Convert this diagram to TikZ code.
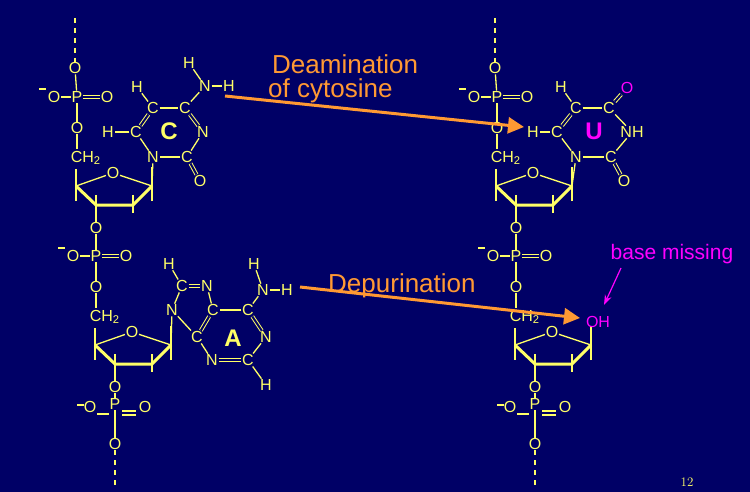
\documentclass[tikz,border=0pt]{standalone}
\usepackage{fontspec}
\setmainfont{Liberation Sans}
\usetikzlibrary{arrows.meta}
\definecolor{bg}{RGB}{0,0,102}
\definecolor{yel}{RGB}{255,255,102}
\definecolor{org}{RGB}{255,153,51}
\definecolor{mag}{RGB}{255,0,255}
\tikzset{
  atom/.style={text=yel,font=\fontsize{16}{16}\selectfont,inner sep=0.6pt},
  bond/.style={draw=yel,line width=1.3pt},
  thick bond/.style={draw=yel,line width=3pt},
  dbl/.style={draw=yel,double=bg,double distance=2pt,line width=1pt},
  dashbond/.style={draw=yel,line width=1.3pt,dash pattern=on 5pt off 5pt},
  bigarrow/.style={draw=org,line width=3pt,-{Triangle[length=16pt,width=16pt]}},
  label/.style={text=org,font=\fontsize{26}{26}\selectfont,inner sep=0pt,anchor=west},
  minus/.style={draw=yel,line width=2pt},
  baselet/.style={font=\bfseries\fontsize{24}{24}\selectfont}
}
\newcommand\nucunit[3]{%
\begin{scope}[shift={(#2,#3)},name prefix=#1-]
  \node[atom] (p) at (0,0) {P};
  \node[atom] (om) at (-23,0) {O};
  \node[atom] (od) at (30,0) {O};
  \node[atom] (ob) at (0,31) {O};
  \node[atom,anchor=west] (ch) at (-7,61) {CH\textsubscript{2}};
  \node[atom] (or) at (36,76) {O};
  \node[atom] (o3) at (19,131) {O};
  \coordinate (c4) at (-1,89);
  \coordinate (c3) at (19,108);
  \coordinate (c2) at (56,108);
  \coordinate (c1) at (75,89);
  \draw[minus] (-38,-8) -- (-31,-8);
  \draw[bond] (om) -- (p);
  \draw[dbl] (p) -- (od);
  \draw[bond] (p) -- (ob);
  \draw[bond] (ob) -- (0,52);
  \draw[bond] (-1,72) -- (-1,104);
  \draw[bond] (c4) -- (or);
  \draw[bond] (or) -- (c1);
  \draw[thick bond,line join=round] (c4) -- (c3) -- (c2) -- (c1);
  \draw[bond] (c3) -- (o3);
  \draw[bond] (c3) ++(0,-10) -- ++(0,10);
  \draw[bond] (c2) ++(0,-10) -- ++(0,18);
  \draw[bond] (75,104) -- (75,70);
\end{scope}}
\begin{document}
\begin{tikzpicture}[x=1pt,y=-1pt]
\fill[bg] (0,0) rectangle (750,492);
\useasboundingbox (0,0) rectangle (750,492);
% ---------- left strand ----------
\node[atom] (lo0) at (75,68) {O};
\coordinate (ltop) at (75,18);
\draw[dashbond] (ltop) -- (lo0);
\nucunit{L1}{77}{97}
\draw[bond] (lo0) -- (L1-p);
\nucunit{L2}{96}{256}
\draw[bond] (L1-o3) -- (L2-p);
% bottom phosphate
\node[atom] (lbom) at (90,407) {O};
\node[atom] (lbp) at (115,404) {P};
\node[atom] (lbod) at (145,407) {O};
\node[atom] (lbo) at (115,444) {O};
\coordinate (lbot) at (115,490);
\draw[minus] (77,405) -- (84,405);
\draw[bond] (L2-o3) -- (lbp);
\draw[bond] (97,414) -- (109,414);
\draw[bond] (122,411) -- (136,411);
\draw[bond] (122,415) -- (136,415);
\draw[bond] (lbp) -- (lbo);
\draw[dashbond] (lbo) -- (lbot);
% cytosine
\node[atom] (c5) at (153,108) {C};
\node[atom] (c4) at (185,108) {C};
\node[atom] (n3) at (203,132) {N};
\node[atom] (c2) at (187,157) {C};
\node[atom] (n1) at (153,157) {N};
\node[atom] (c6) at (136,132) {C};
\node[atom] (h5) at (137,87) {H};
\node[atom] (h6) at (108,132) {H};
\node[atom] (o2) at (200,181) {O};
\node[atom] (n4) at (205,86) {N};
\node[atom] (h4a) at (189,63) {H};
\node[atom] (h4b) at (229,86) {H};
\node[text=yel,baselet] (cl) at (169,131) {C};
\draw[bond] (c5) -- (c4); \draw[dbl] (c4) -- (n3); \draw[bond] (n3) -- (c2);
\draw[bond] (c2) -- (n1); \draw[bond] (n1) -- (c6); \draw[dbl] (c6) -- (c5);
\draw[bond] (c5) -- (h5); \draw[bond] (c6) -- (h6); \draw[dbl] (c2) -- (o2);
\draw[bond] (c4) -- (n4); \draw[bond] (n4) -- (h4a); \draw[bond] (n4) -- (h4b);
% adenine
\node[atom] (a8) at (182,286) {C};
\node[atom] (h8) at (169,264) {H};
\node[atom] (a7) at (207,286) {N};
\node[atom] (a9) at (172,310) {N};
\node[atom] (a5) at (213,310) {C};
\node[atom] (a4) at (197,337) {C};
\node[atom] (a3) at (212,360) {N};
\node[atom] (a2) at (248,360) {C};
\node[atom] (h2) at (266,385) {H};
\node[atom] (a1) at (266,337) {N};
\node[atom] (a6) at (248,310) {C};
\node[atom] (a6n) at (263,290) {N};
\node[atom] (h6a) at (254,264) {H};
\node[atom] (h6b) at (287,290) {H};
\node[text=yel,baselet] (al) at (233,338) {A};
\draw[bond] (a8) -- (h8); \draw[dbl] (a8) -- (a7); \draw[bond] (a7) -- (a5);
\draw[bond] (a9) -- (a8); \draw[bond] (a9) -- (a4); \draw[dbl] (a5) -- (a4);
\draw[bond] (a4) -- (a3); \draw[dbl] (a3) -- (a2); \draw[bond] (a2) -- (h2);
\draw[bond] (a2) -- (a1); \draw[dbl] (a1) -- (a6); \draw[bond] (a6) -- (a5);
\draw[bond] (a6) -- (a6n); \draw[bond] (a6n) -- (h6a); \draw[bond] (a6n) -- (h6b);
\draw[bond] (L1-c1) -- (n1);
\draw[bond] (L2-c1) -- (a9);
% ---------- right strand ----------
\node[atom] (ro0) at (495,68) {O};
\coordinate (rtop) at (495,18);
\draw[dashbond] (rtop) -- (ro0);
\nucunit{R1}{497}{97}
\draw[bond] (ro0) -- (R1-p);
\nucunit{R2}{516}{256}
\draw[bond] (R1-o3) -- (R2-p);
\node[atom] (rbom) at (510,407) {O};
\node[atom] (rbp) at (535,404) {P};
\node[atom] (rbod) at (565,407) {O};
\node[atom] (rbo) at (535,444) {O};
\coordinate (rbot) at (535,490);
\draw[minus] (497,405) -- (504,405);
\draw[bond] (R2-o3) -- (rbp);
\draw[bond] (517,414) -- (529,414);
\draw[bond] (542,411) -- (556,411);
\draw[bond] (542,415) -- (556,415);
\draw[bond] (rbp) -- (rbo);
\draw[dashbond] (rbo) -- (rbot);
% uracil
\node[atom] (u5) at (576,108) {C};
\node[atom] (u4) at (609,108) {C};
\node[atom] (u3) at (632,132) {NH};
\node[atom] (u2) at (611,157) {C};
\node[atom] (u1) at (576,157) {N};
\node[atom] (u6) at (557,132) {C};
\node[atom] (uh5) at (561,87) {H};
\node[atom] (uh6) at (533,132) {H};
\node[atom] (uo2) at (624,181) {O};
\node[atom,text=mag] (uo4) at (627,88) {O};
\node[text=mag,baselet] (ul) at (594,131) {U};
\draw[bond] (u5) -- (u4); \draw[bond] (u4) -- (u3); \draw[bond] (u3) -- (u2);
\draw[bond] (u2) -- (u1); \draw[bond] (u1) -- (u6); \draw[dbl] (u6) -- (u5);
\draw[bond] (u5) -- (uh5); \draw[bond] (u6) -- (uh6); \draw[dbl] (u2) -- (uo2);
\draw[dbl] (u4) -- (uo4);
\draw[bond] (R1-c1) -- (u1);
% missing base
\node[atom,text=mag] (oh) at (598,322) {OH};
\node[text=mag,font=\fontsize{21}{21}\selectfont] (bm) at (672,254) {base missing};
\coordinate (bmt) at (621,268);
\coordinate (bme) at (604,305);
\draw[draw=mag,line width=1.2pt,-{Stealth[length=10pt,width=7pt]}] (bmt) -- (bme);
% arrows
\coordinate (a1s) at (225,96);
\coordinate (a1e) at (524,127);
\draw[bigarrow] (a1s) -- (a1e);
\node[label] (t1) at (272,64) {Deamination};
\node[label] (t2) at (268,91) {of cytosine};
\coordinate (a2s) at (300,287);
\coordinate (a2e) at (580,318);
\draw[bigarrow] (a2s) -- (a2e);
\node[label] (t3) at (328,286) {Depurination};
% page number
\node[text=yel,font=\fontfamily{lmr}\fontsize{13}{13}\selectfont] (pg) at (687,482) {12};
\end{tikzpicture}
\end{document}
